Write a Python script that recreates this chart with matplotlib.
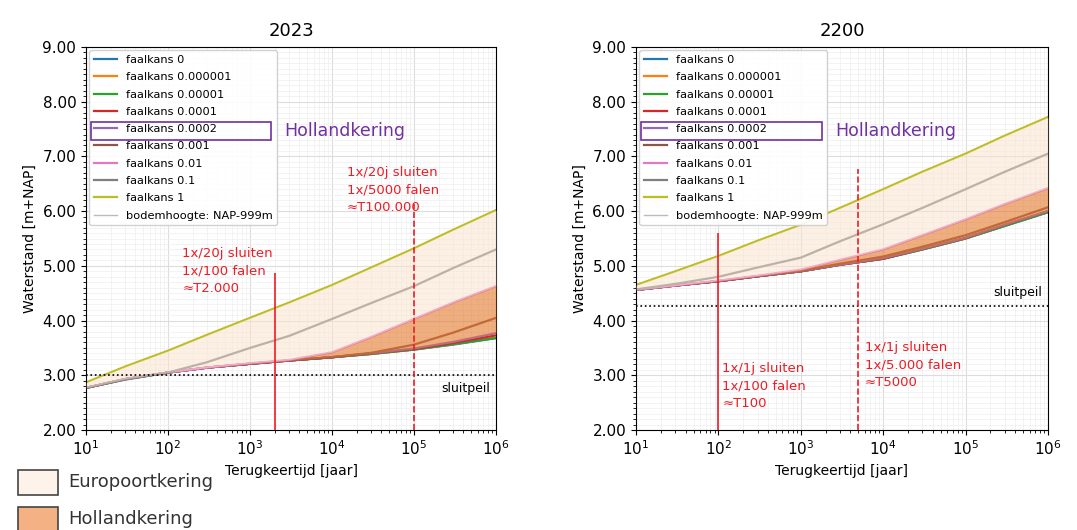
import matplotlib
matplotlib.use('Agg')
import matplotlib.pyplot as plt
from matplotlib.patches import Rectangle
from matplotlib.ticker import MultipleLocator, FormatStrFormatter
import numpy as np

# Terugkeertijd punten [jaar]
T = [10, 30, 100, 300, 1000, 3000, 1e4, 3e4, 1e5, 3e5, 1e6]

labels = ['faalkans 0', 'faalkans 0.000001', 'faalkans 0.00001', 'faalkans 0.0001',
          'faalkans 0.0002', 'faalkans 0.001', 'faalkans 0.01', 'faalkans 0.1', 'faalkans 1']
colors = ['tab:blue', 'tab:orange', 'tab:green', 'tab:red', 'tab:purple',
          'tab:brown', 'tab:pink', 'tab:gray', 'tab:olive']

# 2023 waterstanden [m+NAP]
wl_2023 = [
    [2.77, 2.93, 3.05, 3.14, 3.21, 3.27, 3.33, 3.39, 3.47, 3.56, 3.68],
    [2.77, 2.93, 3.05, 3.14, 3.21, 3.27, 3.33, 3.39, 3.47, 3.57, 3.69],
    [2.77, 2.93, 3.05, 3.14, 3.21, 3.27, 3.33, 3.39, 3.47, 3.57, 3.68],
    [2.77, 2.93, 3.05, 3.14, 3.21, 3.27, 3.33, 3.40, 3.48, 3.59, 3.73],
    [2.77, 2.93, 3.05, 3.14, 3.21, 3.27, 3.33, 3.40, 3.49, 3.61, 3.77],
    [2.77, 2.93, 3.05, 3.14, 3.21, 3.27, 3.33, 3.41, 3.56, 3.78, 4.05],
    [2.77, 2.93, 3.05, 3.14, 3.22, 3.28, 3.42, 3.70, 4.03, 4.33, 4.63],
    [2.77, 2.92, 3.05, 3.24, 3.50, 3.72, 4.03, 4.32, 4.63, 4.96, 5.30],
    [2.87, 3.16, 3.45, 3.74, 4.05, 4.33, 4.65, 4.97, 5.32, 5.66, 6.02],
]

# 2200 waterstanden [m+NAP]
wl_2200 = [
    [4.56, 4.64, 4.72, 4.81, 4.90, 5.02, 5.13, 5.30, 5.50, 5.73, 5.98],
    [4.56, 4.64, 4.72, 4.81, 4.90, 5.02, 5.13, 5.30, 5.50, 5.74, 5.99],
    [4.56, 4.64, 4.72, 4.81, 4.90, 5.02, 5.13, 5.30, 5.50, 5.73, 5.98],
    [4.56, 4.64, 4.72, 4.81, 4.90, 5.02, 5.13, 5.31, 5.51, 5.75, 6.00],
    [4.56, 4.64, 4.72, 4.81, 4.90, 5.02, 5.14, 5.31, 5.51, 5.75, 6.00],
    [4.56, 4.64, 4.72, 4.81, 4.91, 5.04, 5.17, 5.35, 5.56, 5.80, 6.07],
    [4.56, 4.64, 4.73, 4.82, 4.93, 5.11, 5.30, 5.56, 5.85, 6.13, 6.42],
    [4.57, 4.67, 4.80, 4.97, 5.15, 5.45, 5.76, 6.06, 6.40, 6.72, 7.05],
    [4.65, 4.90, 5.18, 5.46, 5.75, 6.06, 6.40, 6.72, 7.05, 7.38, 7.72],
]

sluitpeil = {'2023': 3.0, '2200': 4.27}

# verticale lijnen: (T, bovenkant, stijl)
vlines_2023 = [(2000, 4.87, '-'), (1e5, 6.13, '--')]
vlines_2200 = [(100, 5.60, '-'), (5000, 6.77, '--')]

notes_2023 = [(150, 5.35, '1x/20j sluiten\n1x/100 falen\n\u2248T2.000'),
              (1.5e4, 6.83, '1x/20j sluiten\n1x/5000 falen\n\u2248T100.000')]
notes_2200 = [(112, 3.25, '1x/1j sluiten\n1x/100 falen\n\u2248T100'),
              (6000, 3.63, '1x/1j sluiten\n1x/5.000 falen\n\u2248T5000')]

red = '#ee1c25'
purple = '#7030a0'

fig = plt.figure(figsize=(10.77, 5.30), dpi=100)
ax1 = fig.add_axes([0.0799, 0.1887, 0.3807, 0.7226])
ax2 = fig.add_axes([0.5905, 0.1887, 0.3825, 0.7226])


def draw_panel(ax, title, wl, peil, vls, notes, peil_y):
    bod, = ax.plot(T, wl[0], color='#bbbbbb', lw=1, zorder=1)
    handles = []
    for vals, c, lab in zip(wl, colors, labels):
        h, = ax.plot(T, vals, color=c, lw=1.6, label=lab, zorder=2)
        handles.append(h)
    # Europoortkering en Hollandkering banden (half doorzichtig over de lijnen)
    ax.fill_between(T, wl[8], wl[6], color='#fbe3cd', alpha=0.5, lw=0, zorder=3)
    ax.fill_between(T, wl[6], wl[4], color='#e4782a', alpha=0.6, lw=0, zorder=3)

    ax.axhline(peil, color='k', ls=':', lw=1.2, zorder=4)
    ax.text(1e6 * 0.85, peil_y, 'sluitpeil', ha='right', va='center', fontsize=9)

    for x, top, ls in vls:
        ax.vlines(x, 2.0, top, colors=red, linestyles=ls, lw=1.2, zorder=5)
    for x, y, s in notes:
        ax.text(x, y, s, color=red, fontsize=9.5, va='top', ha='left', linespacing=1.45)

    ax.set_xscale('log')
    ax.set_xlim(10, 1e6)
    ax.set_ylim(2, 9)
    ax.yaxis.set_major_locator(MultipleLocator(1))
    ax.yaxis.set_minor_locator(MultipleLocator(0.1))
    ax.yaxis.set_major_formatter(FormatStrFormatter('%.2f'))
    ax.grid(which='major', color='#dddddd', lw=0.8)
    ax.grid(which='minor', color='#eeeeee', lw=0.5)
    ax.tick_params(labelsize=11)
    ax.set_title(title, fontsize=13, pad=8)
    ax.set_xlabel('Terugkeertijd [jaar]', fontsize=10)
    ax.set_ylabel('Waterstand [m+NAP]', fontsize=10)

    ax.legend(handles + [bod], labels + ['bodemhoogte: NAP-999m'], loc='upper left',
              fontsize=8.2, labelspacing=0.64, handlelength=2.0, borderaxespad=0.3,
              framealpha=0.9)
    ax.add_patch(Rectangle((0.012, 0.757), 0.44, 0.048, transform=ax.transAxes,
                           fill=False, ec=purple, lw=1.2, zorder=10))
    ax.text(0.483, 0.781, 'Hollandkering', transform=ax.transAxes, color=purple,
            fontsize=12.5, va='center', ha='left', zorder=10)


draw_panel(ax1, '2023', wl_2023, sluitpeil['2023'], vlines_2023, notes_2023, 2.75)
draw_panel(ax2, '2200', wl_2200, sluitpeil['2200'], vlines_2200, notes_2200, 4.52)

# legenda onderaan
fig.patches.append(Rectangle((18 / 1077, 1 - 495 / 530), 40 / 1077, 25 / 530,
                             transform=fig.transFigure, fc='#fdf3ea', ec='#444444', lw=1.2))
fig.patches.append(Rectangle((18 / 1077, 1 - 532 / 530), 40 / 1077, 25 / 530,
                             transform=fig.transFigure, fc='#f4b183', ec='#444444', lw=1.2))
fig.text(68 / 1077, 1 - 482 / 530, 'Europoortkering', fontsize=13, va='center', color='#333333')
fig.text(68 / 1077, 1 - 519 / 530, 'Hollandkering', fontsize=13, va='center', color='#333333')

fig.savefig('out.png', dpi=100)
